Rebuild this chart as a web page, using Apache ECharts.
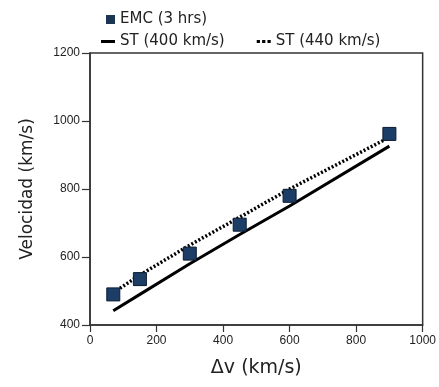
<!DOCTYPE html>
<html>
<head>
<meta charset="utf-8">
<script src="https://cdn.jsdelivr.net/npm/echarts@6/dist/echarts.min.js"></script>
<style>
  html, body { margin: 0; padding: 0; background: #fff; }
  #chart { width: 439px; height: 387px; }
</style>
</head>
<body>
<div id="chart"></div>
<script>
// Velocity vs Δv: EMC measurements and two ST model curves
const deltaV = [70, 150, 300, 450, 600, 900];
const emc = [490, 535, 610, 695, 780, 962];
const st400 = [442, 490, 580, 666, 750, 926];
const st440 = [495, 547, 635, 717, 800, 952];

const xTicks = { min: 0, max: 1000, interval: 200 };
const yTicks = { min: 400, max: 1200, interval: 200 };

const pair = (xs, ys) => xs.map((x, i) => [x, ys[i]]);

const chart = echarts.init(document.getElementById('chart'), null, { renderer: 'canvas' });
const axisColor = '#333';
const tickFont = {
  fontFamily: 'Liberation Sans, Arial, sans-serif', fontSize: 12, color: '#222',
  formatter: v => String(v)
};
const legendText = { fontFamily: 'DejaVu Sans, sans-serif', fontSize: 15, color: '#222' };

chart.setOption({
  animation: false,
  backgroundColor: '#fff',
  grid: {
    left: 90, right: 15, top: 53, bottom: 62,
    show: true, borderColor: axisColor, borderWidth: 1.5
  },
  legend: [
    {
      left: 101, top: 7,
      itemWidth: 9, itemHeight: 9, itemGap: 6,
      textStyle: legendText,
      data: [{ name: 'EMC (3 hrs)', icon: 'rect', itemStyle: { color: '#1c3552', borderWidth: 0 } }]
    },
    {
      left: 96, top: 29,
      itemWidth: 14, itemHeight: 10, itemGap: 32,
      textStyle: legendText,
      data: [
        { name: 'ST (400 km/s)', icon: 'path://M0,4 L14,4 L14,7 L0,7 Z' },
        { name: 'ST (440 km/s)', icon: 'path://M0,5 L3,5 L3,8 L0,8 Z M5,5 L8,5 L8,8 L5,8 Z M10,5 L13,5 L13,8 L10,8 Z' }
      ]
    }
  ],
  xAxis: {
    type: 'value',
    min: xTicks.min, max: xTicks.max, interval: xTicks.interval,
    name: 'Δv (km/s)',
    nameLocation: 'middle', nameGap: 34,
    nameTextStyle: { fontFamily: 'DejaVu Sans, sans-serif', fontSize: 19, color: '#222' },
    axisLine: { show: true, lineStyle: { color: axisColor, width: 1.5 } },
    axisTick: { show: true, length: 7, lineStyle: { color: axisColor, width: 1.2 } },
    axisLabel: Object.assign({ margin: 10 }, tickFont),
    splitLine: { show: false }
  },
  yAxis: {
    type: 'value',
    min: yTicks.min, max: yTicks.max, interval: yTicks.interval,
    name: 'Velocidad (km/s)',
    nameLocation: 'middle', nameGap: 54,
    nameTextStyle: { fontFamily: 'DejaVu Sans, sans-serif', fontSize: 17, color: '#222' },
    axisLine: { show: true, lineStyle: { color: axisColor, width: 1.5 } },
    axisTick: { show: true, length: 8, lineStyle: { color: axisColor, width: 1.2 } },
    axisLabel: Object.assign({ margin: 10 }, tickFont),
    splitLine: { show: false }
  },
  series: [
    {
      name: 'ST (400 km/s)',
      type: 'line',
      data: pair(deltaV, st400),
      showSymbol: false, symbol: 'none',
      itemStyle: { color: '#000' },
      lineStyle: { color: '#000', width: 3 },
      z: 2
    },
    {
      name: 'ST (440 km/s)',
      type: 'line',
      data: pair(deltaV, st440),
      showSymbol: false, symbol: 'none',
      itemStyle: { color: '#000' },
      lineStyle: { color: '#000', width: 3.5, type: [2, 2] },
      z: 2
    },
    {
      name: 'EMC (3 hrs)',
      type: 'scatter',
      data: pair(deltaV, emc),
      symbol: 'rect', symbolSize: 13,
      itemStyle: { color: '#1c3d66', borderColor: '#0b1a2e', borderWidth: 1, opacity: 1 },
      z: 3
    }
  ]
});
</script>
</body>
</html>
